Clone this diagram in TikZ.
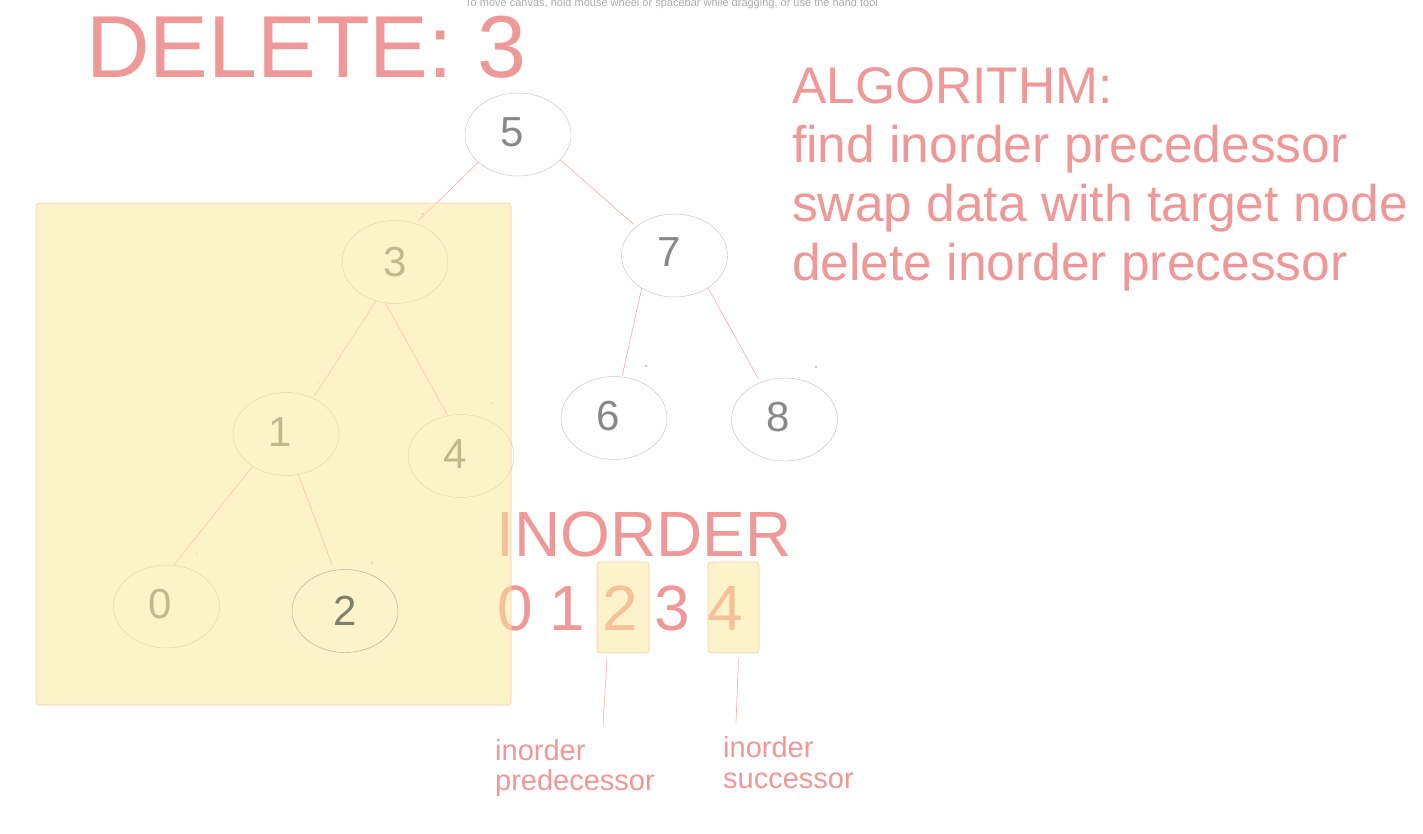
\documentclass[tikz,border=0pt]{standalone}
\usepackage{fontspec}
\setmainfont{Liberation Sans}
\usetikzlibrary{shapes.geometric}
\definecolor{salmon}{RGB}{239,152,152}
\definecolor{nodegray}{RGB}{136,136,136}
\definecolor{ringgray}{RGB}{196,196,196}
\definecolor{edgepink}{RGB}{244,172,172}
\definecolor{hlfill}{RGB}{253,233,153}
\definecolor{hlborder}{RGB}{250,205,175}
\definecolor{hintgray}{RGB}{172,172,172}
\definecolor{dottgray}{RGB}{150,150,150}
\begin{document}
\begin{tikzpicture}[x=1pt,y=-1pt,
  treenode/.style={ellipse, draw=ringgray, line width=0.45pt, minimum width=106pt, minimum height=83pt, inner sep=0pt},
  digit/.style={font=\fontsize{42}{42}\selectfont, text=nodegray, inner sep=0pt},
  edge/.style={draw=edgepink, line width=0.6pt},
  pinktext/.style={text=salmon, inner sep=0pt},
  bigtext/.style={pinktext, anchor=base west, font=\fontsize{88}{88}\selectfont},
  algotext/.style={pinktext, anchor=base west, font=\fontsize{51.5}{59}\selectfont},
  ordtext/.style={pinktext, font=\fontsize{64}{64}\selectfont},
  smalltext/.style={pinktext, anchor=base west, font=\fontsize{29}{32}\selectfont},
  hlbox/.style={draw=hlborder, line width=0.6pt, fill=hlfill, fill opacity=0.5, rounded corners=3pt, inner sep=0pt},
  tinydot/.style={fill=dottgray}
]
\useasboundingbox (0,0) rectangle (1423,833);
\fill[white] (0,0) rectangle (1423,833);

% hint text
\node[anchor=base west, inner sep=0pt, text=hintgray, font=\fontsize{11}{11}\selectfont] (hint) at (465,6) {To move canvas, hold mouse wheel or spacebar while dragging, or use the hand tool};

% tree nodes
\node[treenode] (n5) at (518,134.5) {};
\node[treenode] (n7) at (674.5,255.5) {};
\node[treenode] (n6) at (614,418) {};
\node[treenode] (n8) at (784.5,419.5) {};
\node[treenode] (n3) at (395,262) {};
\node[treenode] (n1) at (286,434) {};
\node[treenode] (n4) at (461,456) {};
\node[treenode] (n0) at (166.5,606.5) {};

\node[digit] (t5) at ([xshift=-6pt,yshift=2pt]n5.center) {5};
\node[digit] (t7) at ([xshift=-5pt,yshift=3pt]n7.center) {7};
\node[digit] (t6) at ([xshift=-6pt,yshift=2pt]n6.center) {6};
\node[digit] (t8) at ([xshift=-6pt,yshift=2pt]n8.center) {8};
\node[digit] (t3) at ([xshift=0pt,yshift=0pt]n3.center) {3};
\node[digit] (t1) at ([xshift=-6pt,yshift=2pt]n1.center) {1};
\node[digit] (t4) at ([xshift=-6pt,yshift=2pt]n4.center) {4};
\node[digit] (t0) at ([xshift=-6pt,yshift=2pt]n0.center) {0};

% node 2 position (drawn later on top)
\coordinate (c2) at (345,611);

% edges
\draw[edge, shorten >=4pt] (n5.215.5) -- (n3.62.7);
\draw[edge, shorten >=3pt] (n5.-31.9) -- (n7.143.7);
\draw[edge, shorten >=2pt] (n7.225.6) -- (n6.79.8);
\draw[edge, shorten >=4pt] (n7.-44.2) -- (n8.123.2);
\draw[edge, shorten >=2pt] (n3.244.7) -- (n1.53.9);
\draw[edge, shorten >=1pt] (n3.257.5) -- (n4.108);
\draw[edge, shorten >=1pt] (n1.224) -- (n0.80);

% tiny handle dots
\fill[tinydot] (422.7,214) circle (0.9pt);
\fill[tinydot] (318,382) circle (0.7pt);
\fill[tinydot] (492,403) circle (0.7pt);
\fill[tinydot] (646,366) circle (0.8pt);
\fill[tinydot] (816,367) circle (0.8pt);
\fill[tinydot] (197,554) circle (0.7pt);
\fill[tinydot] (372,563) circle (0.8pt);

% title
\node[bigtext] (title) at (86,77) {DELETE: 3};

% algorithm
\node[algotext] (al1) at (792,103) {ALGORITHM:};
\node[algotext] (al2) at (792,162) {find inorder precedessor};
\node[algotext] (al3) at (792,221) {swap data with target node};
\node[algotext] (al4) at (792,280) {delete inorder precessor};

% inorder
\node[ordtext, anchor=base west] (inord) at (496,556) {INORDER};
\node[ordtext, anchor=base] (d0) at (515,630) {0};
\node[ordtext, anchor=base] (d1) at (567,630) {1};
\node[ordtext, anchor=base] (d2) at (620,630) {2};
\node[ordtext, anchor=base] (d3) at (672,630) {3};
\node[ordtext, anchor=base] (d4) at (725.5,630) {4};

% labels
\node[smalltext] (lp1) at (495,760) {inorder};
\node[smalltext] (lp2) at (495,790) {predecessor};
\node[smalltext] (ls1) at (723,757) {inorder};
\node[smalltext] (ls2) at (723,788) {successor};

% big yellow highlight
\draw[hlbox] (36,203) rectangle (511,705);

% node 2 on top
\node[treenode, draw={rgb,255:red,178;green,175;blue,158}] (n2) at (c2) {};
\node[digit, text={rgb,255:red,128;green,126;blue,108}] (t2) at (n2.center) {2};
\draw[edge, draw={rgb,255:red,248;green,200;blue,165}, shorten >=5.6pt] (n1.287.6) -- (n2.105.8);

% small highlight boxes
\node[hlbox, minimum width=52pt, minimum height=91pt] (b2) at (623,607.5) {};
\node[hlbox, minimum width=51pt, minimum height=91pt] (b4) at (733.5,607.5) {};

% pointers
\coordinate (pe) at (603,726);
\coordinate (se) at (736,723);
\draw[edge] ([xshift=-16pt,yshift=-5pt]b2.south) -- (pe);
\draw[edge] ([xshift=5pt,yshift=-6pt]b4.south) -- (se);
\end{tikzpicture}
\end{document}
